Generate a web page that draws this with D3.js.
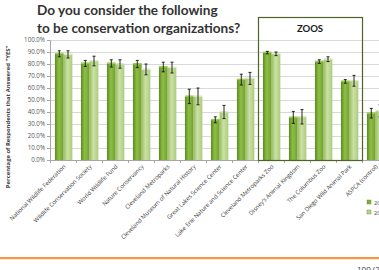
<!DOCTYPE html>
<html><head><meta charset="utf-8">
<script src="https://cdn.jsdelivr.net/npm/d3@7"></script>
<style>html,body{margin:0;padding:0;background:#fff;overflow:hidden}svg{display:block}</style>
</head><body>
<svg id="c" width="379" height="270"></svg>
<script>
const categories = ["National Wildlife Federation","Wildlife Conservation Society","World Wildlife Fund","Nature Conservancy","Cleveland Metroparks","Cleveland Museum of Natural History","Great Lakes Science Center","Lake Erie Nature and Science Center","Cleveland Metroparks Zoo","Disney’s Animal Kingdom","The Columbus Zoo","San Diego Wild Animal Park","ASPCA (control)"];
const seriesA = [88.5,80.5,80.5,80,77.5,53,33.5,67,89.5,35.5,82,65.5,39];
const seriesB = [88,82.5,80,75.5,77,53,40,68,88.5,36,84,66,41];
const errA = [2.5,2.5,3,3,4,6,2.5,4.5,1,5,1.5,1.5,4];
const errB = [3,4,3.5,4.5,4.5,7,5.5,5,1.5,6,2,4.5,5];
const legendLabels = ["2009","2010"];
const yTicks = [0,10,20,30,40,50,60,70,80,90,100];
const zooCats = ["Cleveland Metroparks Zoo","San Diego Wild Animal Park"];

const svg = d3.select("#c");
const defs = svg.append("defs");
function grad(id, stops){
  const g = defs.append("linearGradient").attr("id",id).attr("x1","0").attr("x2","1").attr("y1","0").attr("y2","0");
  stops.forEach(s=>g.append("stop").attr("offset",s[0]).attr("stop-color",s[1]));
}
grad("gA",[[0,"#5d8a22"],[0.45,"#8fbf45"],[1,"#6f9e2e"]]);
grad("gB",[[0,"#9cbe68"],[0.45,"#cbe2a3"],[1,"#abcb7f"]]);

const plotLeft = 50, plotTop = 40, plotBottom = 160;
const x = d3.scaleBand().domain(categories).range([plotLeft, plotLeft + 26*categories.length]).padding(0);
const y = d3.scaleLinear().domain([0,100]).range([plotBottom, plotTop]);
const inner = d3.scaleBand().domain([0,1]).range([x.bandwidth()*0.19, x.bandwidth()*0.86]).padding(0);

// title
const title = svg.append("g").attr("font-family","Lato, 'Open Sans', sans-serif").attr("font-weight","bold").attr("font-size","13.6px").attr("fill","#333");
title.append("text").attr("x",37).attr("y",15).text("Do you consider the following");
title.append("text").attr("x",37).attr("y",33).text("to be conservation organizations?");

// gridlines
svg.append("g").selectAll("line").data(yTicks).join("line")
  .attr("x1",plotLeft).attr("x2",379).attr("y1",d=>y(d)+0.5).attr("y2",d=>y(d)+0.5)
  .attr("stroke",d=>d===0?"#a6a6a6":"#d9d9d9").attr("stroke-width",1);

// y axis
const ya = svg.append("g").attr("transform",`translate(${plotLeft},0)`)
  .call(d3.axisLeft(y).tickValues(yTicks).tickSize(3).tickFormat(d=>d.toFixed(1)+"%"));
ya.select(".domain").attr("stroke","#a6a6a6");
ya.selectAll(".tick line").attr("stroke","#a6a6a6");
ya.selectAll("text").attr("font-family","'Open Sans', sans-serif").attr("font-size","6.2px").attr("fill","#595959").attr("x",-5);

// y title
svg.append("text").attr("transform","translate(10,117) rotate(-90)").attr("text-anchor","middle")
  .attr("font-family","'Open Sans', sans-serif").attr("font-weight","bold").attr("font-size","5.9px").attr("fill","#404040")
  .text("Percentage of Respondents that Answered \"YES\"");

// x ticks
svg.append("g").selectAll("line").data(categories.concat(["__end"])).join("line")
  .attr("x1",(d,i)=>plotLeft+i*x.bandwidth()+0.5).attr("x2",(d,i)=>plotLeft+i*x.bandwidth()+0.5)
  .attr("y1",plotBottom).attr("y2",plotBottom+3).attr("stroke","#a6a6a6");

// bars
const groups = svg.append("g").selectAll("g").data(categories).join("g")
  .attr("transform",d=>`translate(${x(d)},0)`);
const sets = [[seriesA,errA,"url(#gA)","#9ccf4f"],[seriesB,errB,"url(#gB)","#dcebc2"]];
sets.forEach((s,k)=>{
  groups.append("rect").attr("x",inner(k)).attr("width",inner.bandwidth())
    .attr("y",(d,i)=>y(s[0][i])).attr("height",(d,i)=>plotBottom-y(s[0][i])).attr("fill",s[2]);
  groups.append("rect").attr("x",inner(k)).attr("width",inner.bandwidth())
    .attr("y",(d,i)=>y(s[0][i])-1).attr("height",1.5).attr("fill",s[3]);
});
// error bars
sets.forEach((s,k)=>{
  const cx = inner(k)+inner.bandwidth()/2;
  groups.append("line").attr("x1",cx).attr("x2",cx)
    .attr("y1",(d,i)=>y(s[0][i]+s[1][i])).attr("y2",(d,i)=>y(s[0][i]-s[1][i])).attr("stroke","#111").attr("stroke-width",0.9);
  [1,-1].forEach(sg=>{
    groups.append("line").attr("x1",cx-1.5).attr("x2",cx+1.5)
      .attr("y1",(d,i)=>y(s[0][i]+sg*s[1][i])).attr("y2",(d,i)=>y(s[0][i]+sg*s[1][i])).attr("stroke","#111").attr("stroke-width",0.9);
  });
});

// zoo box
const zx0 = x(zooCats[0]), zx1 = x(zooCats[1]) + x.bandwidth();
svg.append("rect").attr("x",zx0+0.5).attr("y",17.5).attr("width",zx1-zx0).attr("height",plotBottom-17)
  .attr("fill","none").attr("stroke","#4f6228").attr("stroke-width",1.2);
svg.append("text").attr("x",(zx0+zx1)/2).attr("y",32).attr("text-anchor","middle")
  .attr("font-family","Lato, 'Open Sans', sans-serif").attr("font-weight","bold").attr("font-size","9.5px").attr("fill","#1a1a1a").text("ZOOS");

// x labels
svg.append("g").selectAll("text").data(categories).join("text")
  .attr("transform",d=>`translate(${x(d)+x.bandwidth()/2+3},${plotBottom+7}) rotate(-45)`)
  .attr("text-anchor","end").attr("font-family","'Open Sans', sans-serif").attr("font-size","5.9px").attr("fill","#404040")
  .text(d=>d);

// legend
const lg = svg.append("g");
[["#7fb03a"],["#b9d68d"]].forEach((c,i)=>{
  lg.append("rect").attr("x",367).attr("y",200+i*10).attr("width",4).attr("height",4).attr("fill",c[0]).attr("stroke","#5d7d2a").attr("stroke-width",0.4);
  lg.append("text").attr("x",374).attr("y",204.5+i*10).attr("font-family","'Open Sans', sans-serif").attr("font-size","5.6px").attr("fill","#404040").text(legendLabels[i]);
});

// footer
svg.append("rect").attr("x",0).attr("y",257).attr("width",379).attr("height",2.2).attr("fill","#f79646");
svg.append("text").attr("x",357).attr("y",272).attr("font-family","'Open Sans', sans-serif").attr("font-size","8px").attr("fill","#404040").text("100 (2010)");
</script>
</body></html>
